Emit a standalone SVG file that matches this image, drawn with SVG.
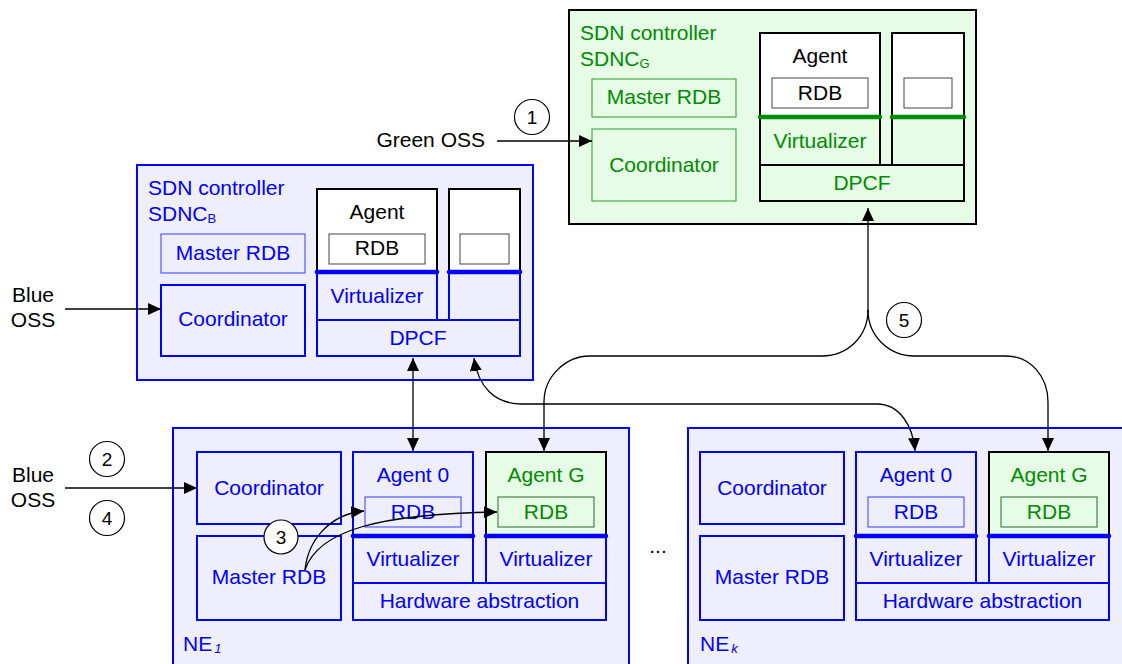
<svg xmlns="http://www.w3.org/2000/svg" width="1122" height="664" viewBox="0 0 1122 664">
<defs>
<marker id="ah" markerUnits="userSpaceOnUse" markerWidth="14" markerHeight="12" refX="13" refY="6" orient="auto-start-reverse" viewBox="0 0 14 12">
<path d="M0,0 L13,6 L0,12 Z" fill="#000"/>
</marker>
<style>
text{font-family:"Liberation Sans",Arial,sans-serif;font-size:21px}
.c{text-anchor:middle}
.b{fill:#0000ff}
.g{fill:#008c00}
.k{fill:#000}
.lav{fill:#eeeefd}
.grn{fill:#e6fce6}
.wh{fill:#fff}
.sb{stroke:#0000ff;stroke-width:2}
.sbt{stroke:#3a3aff;stroke-width:1}
.sk{stroke:#000;stroke-width:2}
.skt{stroke:#444;stroke-width:1}
.sg{stroke:#2a9a2a;stroke-width:1}
.sgd{stroke:#2a6a2a;stroke-width:1}
.tb{stroke:#0000ff;stroke-width:4.5;stroke-linecap:round}
.tg{stroke:#008c00;stroke-width:4.5;stroke-linecap:round}
.con{fill:none;stroke:#000;stroke-width:1.3}
.circ{fill:#fff;stroke:#000;stroke-width:1.2}
.num{font-size:19px;text-anchor:middle;fill:#000}
.sub{font-size:13px}
</style>
</defs>

<g id="sdnc-green">
<rect x="569" y="10" width="407" height="214" class="grn sk"/>
<text x="580" y="40" class="g">SDN controller</text>
<text x="580" y="66" class="g">SDNC<tspan class="sub" dy="2">G</tspan></text>
<rect x="592" y="79" width="144" height="38" class="grn sg"/>
<text x="664" y="104" class="g c">Master RDB</text>
<rect x="592" y="129" width="144" height="72" class="grn sg"/>
<text x="664" y="172" class="g c">Coordinator</text>
<rect x="760" y="33" width="120" height="84" class="wh"/>
<rect x="892" y="33" width="72" height="84" class="wh"/>
<rect x="760" y="33" width="120" height="132" fill="none" class="sk"/>
<rect x="892" y="33" width="72" height="132" fill="none" class="sk"/>
<rect x="760" y="165" width="204" height="36" class="grn sk"/>
<line x1="760" y1="117" x2="880" y2="117" class="tg"/>
<line x1="892" y1="117" x2="964" y2="117" class="tg"/>
<text x="820" y="63" class="k c">Agent</text>
<rect x="772" y="78" width="96" height="30" class="wh skt"/>
<text x="820" y="100" class="k c">RDB</text>
<rect x="904" y="78" width="48" height="30" class="wh skt"/>
<text x="820" y="148" class="g c">Virtualizer</text>
<text x="862" y="190" class="g c">DPCF</text>
</g>

<g id="sdnc-blue">
<rect x="137" y="165" width="396" height="215" class="lav sb"/>
<text x="148" y="195" class="b">SDN controller</text>
<text x="148" y="221" class="b">SDNC<tspan class="sub" dy="2">B</tspan></text>
<rect x="161" y="234" width="144" height="39" class="lav sbt"/>
<text x="233" y="260" class="b c">Master RDB</text>
<rect x="161" y="285" width="144" height="71" class="lav sb"/>
<text x="233" y="326" class="b c">Coordinator</text>
<rect x="317" y="189" width="120" height="83" class="wh sk"/>
<rect x="449" y="189" width="71" height="83" class="wh sk"/>
<rect x="317" y="272" width="120" height="48" class="lav sb"/>
<rect x="449" y="272" width="71" height="48" class="lav sb"/>
<rect x="317" y="320" width="203" height="36" class="lav sb"/>
<line x1="317" y1="272" x2="437" y2="272" class="tb"/>
<line x1="449" y1="272" x2="520" y2="272" class="tb"/>
<text x="377" y="219" class="k c">Agent</text>
<rect x="329" y="234" width="96" height="30" class="wh skt"/>
<text x="377" y="255" class="k c">RDB</text>
<rect x="460" y="234" width="49" height="30" class="wh skt"/>
<text x="377" y="303" class="b c">Virtualizer</text>
<text x="418" y="345" class="b c">DPCF</text>
</g>

<g id="ne-1">
<rect x="173" y="428" width="456" height="260" class="lav sb"/>
<rect x="197" y="452" width="144" height="72" class="lav sb"/>
<text x="269" y="495" class="b c">Coordinator</text>
<rect x="197" y="536" width="144" height="84" class="lav sb"/>
<text x="269" y="584" class="b c">Master RDB</text>
<rect x="353" y="452" width="120" height="131" class="lav sb"/>
<text x="413" y="482" class="b c">Agent 0</text>
<rect x="365" y="497" width="96" height="30" class="lav sbt"/>
<text x="413" y="519" class="b c">RDB</text>
<rect x="486" y="536" width="120" height="47" class="lav sb"/>
<rect x="486" y="452" width="120" height="84" class="grn sk"/>
<text x="546" y="482" class="g c">Agent G</text>
<rect x="498" y="497" width="96" height="30" class="grn sgd"/>
<text x="546" y="519" class="g c">RDB</text>
<line x1="353" y1="536" x2="473" y2="536" class="tb"/>
<line x1="486" y1="536" x2="606" y2="536" class="tb"/>
<text x="413" y="566" class="b c">Virtualizer</text>
<text x="546" y="566" class="b c">Virtualizer</text>
<rect x="353" y="583" width="253" height="37" class="lav sb"/>
<text x="479.5" y="608" class="b c">Hardware abstraction</text>
<text x="183" y="651" class="b">NE<tspan class="sub" font-style="italic" dy="2" dx="2">1</tspan></text>
</g>

<g id="ne-k">
<rect x="688" y="428" width="460" height="260" class="lav sb"/>
<rect x="700" y="452" width="144" height="72" class="lav sb"/>
<text x="772" y="495" class="b c">Coordinator</text>
<rect x="700" y="536" width="144" height="84" class="lav sb"/>
<text x="772" y="584" class="b c">Master RDB</text>
<rect x="856" y="452" width="120" height="131" class="lav sb"/>
<text x="916" y="482" class="b c">Agent 0</text>
<rect x="868" y="497" width="96" height="30" class="lav sbt"/>
<text x="916" y="519" class="b c">RDB</text>
<rect x="989" y="536" width="120" height="47" class="lav sb"/>
<rect x="989" y="452" width="120" height="84" class="grn sk"/>
<text x="1049" y="482" class="g c">Agent G</text>
<rect x="1001" y="497" width="96" height="30" class="grn sgd"/>
<text x="1049" y="519" class="g c">RDB</text>
<line x1="856" y1="536" x2="976" y2="536" class="tb"/>
<line x1="989" y1="536" x2="1109" y2="536" class="tb"/>
<text x="916" y="566" class="b c">Virtualizer</text>
<text x="1049" y="566" class="b c">Virtualizer</text>
<rect x="856" y="583" width="253" height="37" class="lav sb"/>
<text x="982.5" y="608" class="b c">Hardware abstraction</text>
<text x="700" y="651" class="b">NE<tspan class="sub" font-style="italic" dy="2" dx="2">k</tspan></text>
</g>

<g id="labels">
<text x="485" y="147" class="k" text-anchor="end">Green OSS</text>
<text x="33" y="302" class="k c">Blue</text>
<text x="33" y="327" class="k c">OSS</text>
<text x="33" y="482" class="k c">Blue</text>
<text x="33" y="507" class="k c">OSS</text>
<text x="658" y="553" class="k c">...</text>
</g>

<g id="connectors">
<line x1="497" y1="141" x2="592" y2="141" class="con" marker-end="url(#ah)"/>
<line x1="65" y1="309" x2="161" y2="309" class="con" marker-end="url(#ah)"/>
<line x1="65" y1="488" x2="197" y2="488" class="con" marker-end="url(#ah)"/>
<line x1="413" y1="358" x2="413" y2="451" class="con" marker-start="url(#ah)" marker-end="url(#ah)"/>
<path d="M474,358 C478,386 494,404 522,404 L877,404 C899,404 913,425 915,451" class="con" marker-start="url(#ah)" marker-end="url(#ah)"/>
<line x1="868" y1="312" x2="868" y2="208" class="con" marker-end="url(#ah)"/>
<path d="M868,310 C868,336 848,356 822,356 L590,356 C565,356 544,377 544,402 L544,451" class="con" marker-end="url(#ah)"/>
<path d="M868,310 C868,336 889,356 914,356 L1006,356 C1031,356 1048,377 1048,402 L1048,451" class="con" marker-end="url(#ah)"/>
<path d="M305,570 C308,540 330,514 364,511" class="con" marker-end="url(#ah)"/>
<path d="M305,570 C318,530 380,514 497,512" class="con" marker-end="url(#ah)"/>
</g>

<g id="steps">
<circle cx="532" cy="117" r="17.5" class="circ"/>
<text x="532" y="124" class="num">1</text>
<circle cx="107" cy="459" r="17.5" class="circ"/>
<text x="107" y="466" class="num">2</text>
<circle cx="281" cy="537" r="17" class="circ"/>
<text x="281" y="544" class="num">3</text>
<circle cx="107" cy="518" r="17.5" class="circ"/>
<text x="107" y="525" class="num">4</text>
<circle cx="904" cy="320" r="17.5" class="circ"/>
<text x="904" y="327" class="num">5</text>
</g>
</svg>
